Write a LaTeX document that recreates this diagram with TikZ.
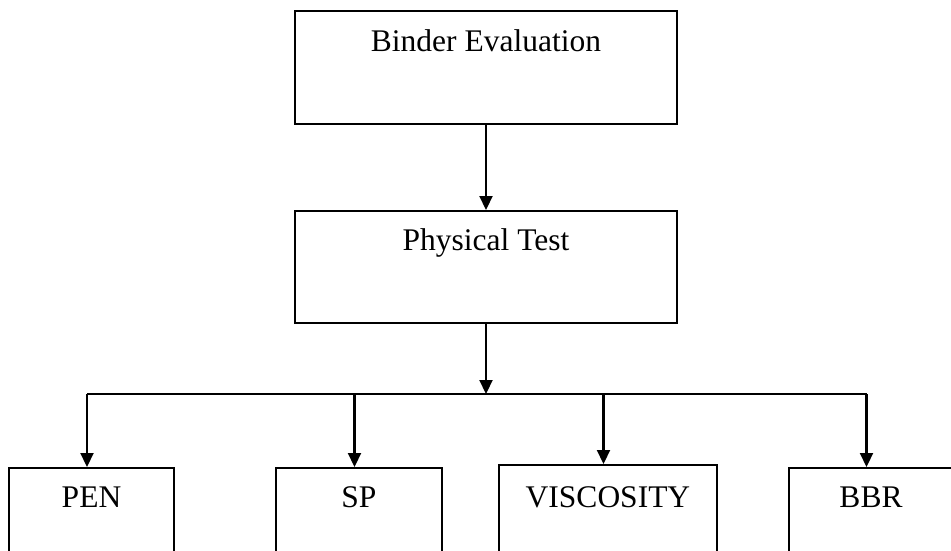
\documentclass[tikz,border=0pt]{standalone}
\usepackage{fontspec}
\setmainfont{Liberation Serif}
\usetikzlibrary{arrows.meta, calc}

\begin{document}
\begin{tikzpicture}[x=1pt,y=-1pt,
    box/.style={draw,line width=1.8pt,inner sep=0pt,anchor=north,
      font=\fontsize{31.5}{36}\selectfont,text height=40pt,text depth=72pt},
    ln/.style={line width=2.2pt},
    arj/.style={ln,-{Triangle[length=14pt,width=13pt]}}]
  \path[use as bounding box] (0,0) rectangle (951,551);
  \clip (0,0) rectangle (951,551);
  % upper part
  \node(binder)[box,minimum width=382pt,text height=41pt,text depth=72pt]
    at (486,10) {Binder Evaluation};
  \node(phys)[box,minimum width=382pt] at (486,210) {Physical Test};
  \draw[arj] (binder) -- (phys);
  % tests
  \node(pen)[box,minimum width=165pt,text depth=110pt] at (91.5,467) {PEN};
  \node(sp)[box,minimum width=166pt,text depth=110pt] at (359,467) {SP};
  \node(visc)[box,minimum width=218pt,text height=43pt,text depth=110pt]
    at (608,464) {VISCOSITY};
  \node(bbr)[box,minimum width=164pt,text depth=110pt] at (871,467) {BBR};
  \coordinate(bus) at (486,394);
  \draw[arj] (phys) -- (bus);
  \draw[ln] ($(pen.north |- bus)+(-4.5,0)$) -- ($(bbr.north |- bus)+(-4.5,0)$);
  \foreach \n in {pen,sp,visc,bbr}
    \draw[arj] ($(\n.north |- bus)+(-4.5,0)$) -- ($(\n.north)+(-4.5,0)$);
\end{tikzpicture}
\end{document}
